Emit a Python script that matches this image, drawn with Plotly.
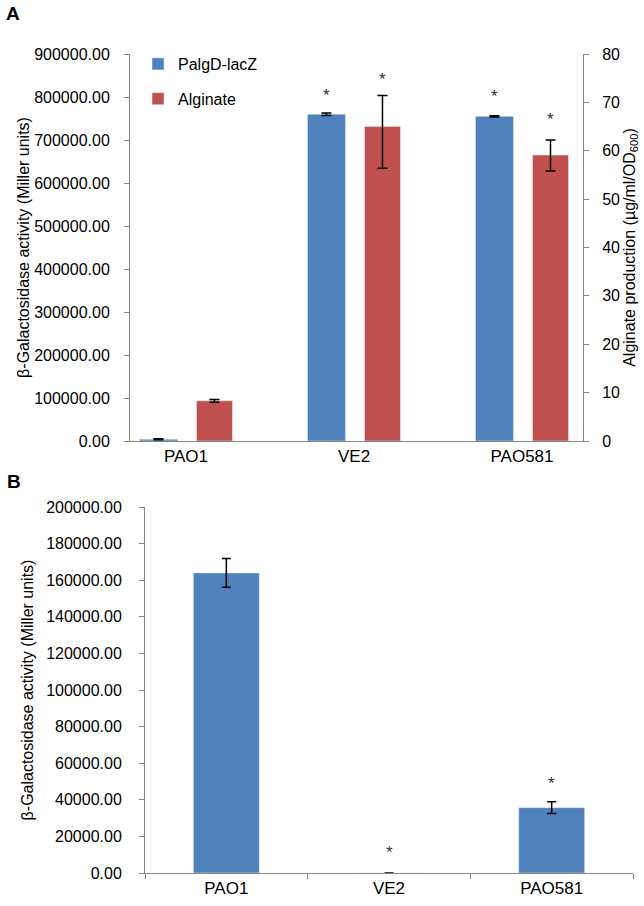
import plotly.graph_objects as go

strains = ["PAO1", "VE2", "PAO581"]

# Panel A: PalgD-lacZ (Miller units, left axis) and alginate (ug/ml/OD600, right axis)
lacz_a = [4000, 760000, 755000]
lacz_a_err = [1000, 3000, 1500]
alg_a = [8.3, 65.0, 59.1]
alg_a_err_plus = [0.3, 6.4, 3.1]
alg_a_err_minus = [0.3, 8.6, 3.3]
star_lacz_a = [None, 810000, 807000]
star_alg_a = [None, 75.3, 67.0]

# Panel B: beta-galactosidase activity
lacz_b = [164000, 0, 35700]
lacz_b_err = [7800, 0, 3200]
star_b = [None, 13100, 50400]

BLUE = "#4F81BD"
RED = "#C0504D"
AXC = "#868686"
FONT = "Arial, Liberation Sans, sans-serif"

W, H = 644, 906
def px(x):
    return x / W
def py(y):
    return 1 - y / H

# bar geometry (category units)
off_blue, w_blue = -0.277, 0.226
off_red, w_red = 0.0625, 0.214
w_b = 0.405

fig = go.Figure()
fig.add_trace(go.Bar(
    x=strains, y=lacz_a, name="PalgD-lacZ", marker_color=BLUE,
    offset=off_blue, width=w_blue, xaxis="x", yaxis="y",
    error_y=dict(type="data", array=lacz_a_err, color="black", thickness=1.5, width=5),
    legendgroup="a1"))
fig.add_trace(go.Bar(
    x=strains, y=alg_a, name="Alginate", marker_color=RED,
    offset=off_red, width=w_red, xaxis="x", yaxis="y2",
    error_y=dict(type="data", symmetric=False, array=alg_a_err_plus,
                 arrayminus=alg_a_err_minus, color="black", thickness=1.5, width=5),
    legendgroup="a2"))
fig.add_trace(go.Bar(
    x=strains, y=lacz_b, name="PalgD-lacZ (B)", marker_color=BLUE,
    width=w_b, xaxis="x2", yaxis="y3", showlegend=False,
    error_y=dict(type="data", array=lacz_b_err, color="black", thickness=1.5, width=4.5)))

STAR_FONT = dict(size=17, color="#333", family=FONT)
ann = []
for i, s in enumerate(star_lacz_a):
    if s is not None:
        ann.append(dict(x=i + off_blue + w_blue / 2, y=s, xref="x", yref="y", text="*",
                        showarrow=False, yshift=-3, font=STAR_FONT))
for i, s in enumerate(star_alg_a):
    if s is not None:
        ann.append(dict(x=i + off_red + w_red / 2, y=s, xref="x", yref="y2", text="*",
                        showarrow=False, yshift=-3, font=STAR_FONT))
for i, s in enumerate(star_b):
    if s is not None:
        ann.append(dict(x=i, y=s, xref="x2", yref="y3", text="*",
                        showarrow=False, yshift=-3, font=STAR_FONT))
ann.append(dict(x=px(13), y=py(14), xref="paper", yref="paper", text="<b>A</b>",
                xanchor="center", yanchor="middle",
                showarrow=False, font=dict(size=19, color="black", family=FONT)))
ann.append(dict(x=px(14), y=py(481), xref="paper", yref="paper", text="<b>B</b>",
                xanchor="center", yanchor="middle",
                showarrow=False, font=dict(size=19, color="black", family=FONT)))

axis_common = dict(showline=True, linecolor=AXC, linewidth=1, showgrid=False,
                   zeroline=False, automargin=False)

fig.update_layout(
    width=W, height=H,
    margin=dict(l=0, r=0, t=0, b=0),
    paper_bgcolor="white", plot_bgcolor="white",
    font=dict(family=FONT, size=16, color="black"),
    barmode="overlay",
    showlegend=True,
    legend=dict(x=px(138), y=py(47), xanchor="left", yanchor="top",
                font=dict(size=16), tracegroupgap=11, bgcolor="rgba(0,0,0,0)",
                itemwidth=30),
    xaxis=dict(domain=[px(130), px(583)], anchor="y", type="category",
               range=[-0.3333, 2.363], ticks="", tickfont=dict(size=17),
               **axis_common),
    yaxis=dict(domain=[py(441), py(54)], anchor="x", range=[0, 900000], dtick=100000,
               tickformat=".2f", ticks="outside", ticklen=5, tickcolor=AXC,
               ticklabelstandoff=11, tickfont=dict(size=16),
               title=dict(text="β-Galactosidase activity (Miller units)", standoff=0,
                          font=dict(size=16)),
               **axis_common),
    yaxis2=dict(overlaying="y", anchor="x", side="right", range=[0, 80], dtick=10,
                ticks="outside", ticklen=5, tickcolor=AXC, ticklabelstandoff=10,
                tickfont=dict(size=16),
                title=dict(text="Alginate production (µg/ml/OD<sub>600</sub>)", standoff=4,
                           font=dict(size=16)),
                **axis_common),
    xaxis2=dict(domain=[px(145), px(633)], anchor="y3", type="category",
                range=[-0.5, 2.5], ticks="outside", tickson="boundaries", ticklen=5,
                tickcolor=AXC, tickfont=dict(size=17), **axis_common),
    yaxis3=dict(domain=[py(873), py(507)], anchor="x2", range=[0, 200000], dtick=20000,
                tickformat=".2f", ticks="outside", ticklen=5, tickcolor=AXC,
                ticklabelstandoff=14, tickfont=dict(size=16),
                title=dict(text="β-Galactosidase activity (Miller units)", standoff=8,
                           font=dict(size=16)),
                **axis_common),
    annotations=ann,
)

fig.write_html("out.html", config={"displayModeBar": False},
               post_script="document.body.style.margin='0px';")
